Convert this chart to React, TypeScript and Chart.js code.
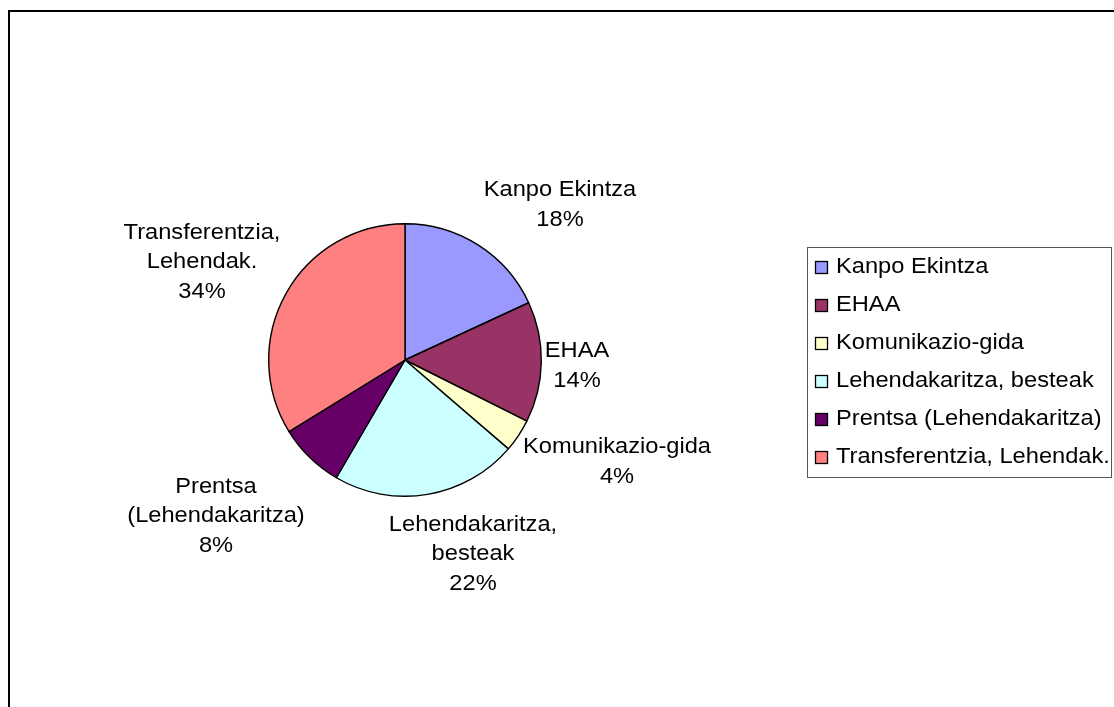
import React, { useEffect, useRef } from "react";
import { Chart, registerables } from "chart.js";

Chart.register(...registerables);

// ---- Data ----
const categories = [
  "Kanpo Ekintza",
  "EHAA",
  "Komunikazio-gida",
  "Lehendakaritza, besteak",
  "Prentsa (Lehendakaritza)",
  "Transferentzia, Lehendak.",
];
const values = [18.1, 14.3, 3.9, 22.1, 7.8, 33.8];
const sliceColors = ["#9999FF", "#993366", "#FFFFCC", "#CCFFFF", "#660066", "#FF8080"];

// ---- Styling helpers ----
const FONT = '22px "Liberation Sans", Arial, sans-serif';
const SX = 1.075;
const LINE_H = 29.5;

function drawText(ctx: CanvasRenderingContext2D, text: string, x: number, y: number, align: CanvasTextAlign) {
  ctx.save();
  ctx.translate(x, y);
  ctx.scale(SX, 1);
  ctx.font = FONT;
  ctx.fillStyle = "#000";
  ctx.textAlign = align;
  ctx.textBaseline = "middle";
  ctx.fillText(text, 0, 0);
  ctx.restore();
}

function wrapText(ctx: CanvasRenderingContext2D, text: string, maxW: number): string[] {
  ctx.font = FONT;
  const words = text.split(" ");
  const lines: string[] = [];
  let cur = "";
  for (const w of words) {
    const t = cur ? cur + " " + w : w;
    if (cur && ctx.measureText(t).width * SX > maxW) {
      lines.push(cur);
      cur = w;
    } else cur = t;
  }
  if (cur) lines.push(cur);
  return lines;
}

// label block centres relative to the pie centre
const labelNudge: [number, number][] = [
  [155, -155],
  [172, 6],
  [212, 102],
  [68, 194],
  [-189, 156],
  [-203, -98],
];

const pieLabelsPlugin = {
  id: "pieLabels",
  afterDatasetsDraw(chart: any) {
    const ctx: CanvasRenderingContext2D = chart.ctx;
    const meta = chart.getDatasetMeta(0);
    const data: number[] = chart.data.datasets[0].data;
    const total = data.reduce((a, b) => a + b, 0);
    meta.data.forEach((arc: any, i: number) => {
      const pct = Math.round((data[i] / total) * 100) + "%";
      const lines = [...wrapText(ctx, chart.data.labels[i], 200), pct];
      const [dx, dy] = labelNudge[i];
      const cx = arc.x + dx;
      const cy = arc.y + dy;
      const startY = cy - ((lines.length - 1) * LINE_H) / 2;
      lines.forEach((ln, k) => drawText(ctx, ln, cx, startY + k * LINE_H, "center"));
    });
  },
};

const legendPlugin = {
  id: "boxLegend",
  afterDraw(chart: any) {
    const ctx: CanvasRenderingContext2D = chart.ctx;
    const left = 797.5, top = 235.5, right = 1101.5, bottom = 465.5;
    ctx.save();
    ctx.strokeStyle = "#555";
    ctx.lineWidth = 1;
    ctx.strokeRect(left, top, right - left, bottom - top);
    const labels: string[] = chart.data.labels;
    const colors: string[] = chart.data.datasets[0].backgroundColor;
    labels.forEach((lab, i) => {
      const rowY = 255 + i * 38;
      ctx.fillStyle = colors[i];
      ctx.fillRect(805.5, rowY - 5.5, 12, 12);
      ctx.strokeStyle = "#000";
      ctx.lineWidth = 1.3;
      ctx.strokeRect(805.5, rowY - 5.5, 12, 12);
      drawText(ctx, lab, 826, rowY, "left");
    });
    ctx.restore();
  },
};

export default function App() {
  const canvasRef = useRef<HTMLCanvasElement | null>(null);

  useEffect(() => {
    if (!canvasRef.current) return;
    const chart = new Chart(canvasRef.current, {
      type: "pie",
      data: {
        labels: categories,
        datasets: [
          {
            data: values,
            backgroundColor: sliceColors,
            borderColor: "#000",
            borderWidth: 1.4,
          },
        ],
      },
      options: {
        animation: false,
        responsive: false,
        layout: { padding: { left: 258, right: 572, top: 211, bottom: 210 } },
        plugins: {
          legend: { display: false },
          tooltip: { enabled: false },
          title: { display: false },
        },
      },
      plugins: [pieLabelsPlugin, legendPlugin],
    });
    return () => chart.destroy();
  }, []);

  return (
    <div style={{ position: "fixed", left: 0, top: 0, width: 1114, height: 707, overflow: "hidden", background: "#fff" }}>
      <div
        style={{
          position: "absolute",
          left: 8,
          top: 10,
          width: 1300,
          height: 900,
          border: "2px solid #000",
          boxSizing: "border-box",
        }}
      />
      <div style={{ position: "absolute", left: 10, top: 12, width: 1104, height: 695 }}>
        <canvas ref={canvasRef} width={1104} height={695} style={{ width: 1104, height: 695, display: "block" }} />
      </div>
    </div>
  );
}
